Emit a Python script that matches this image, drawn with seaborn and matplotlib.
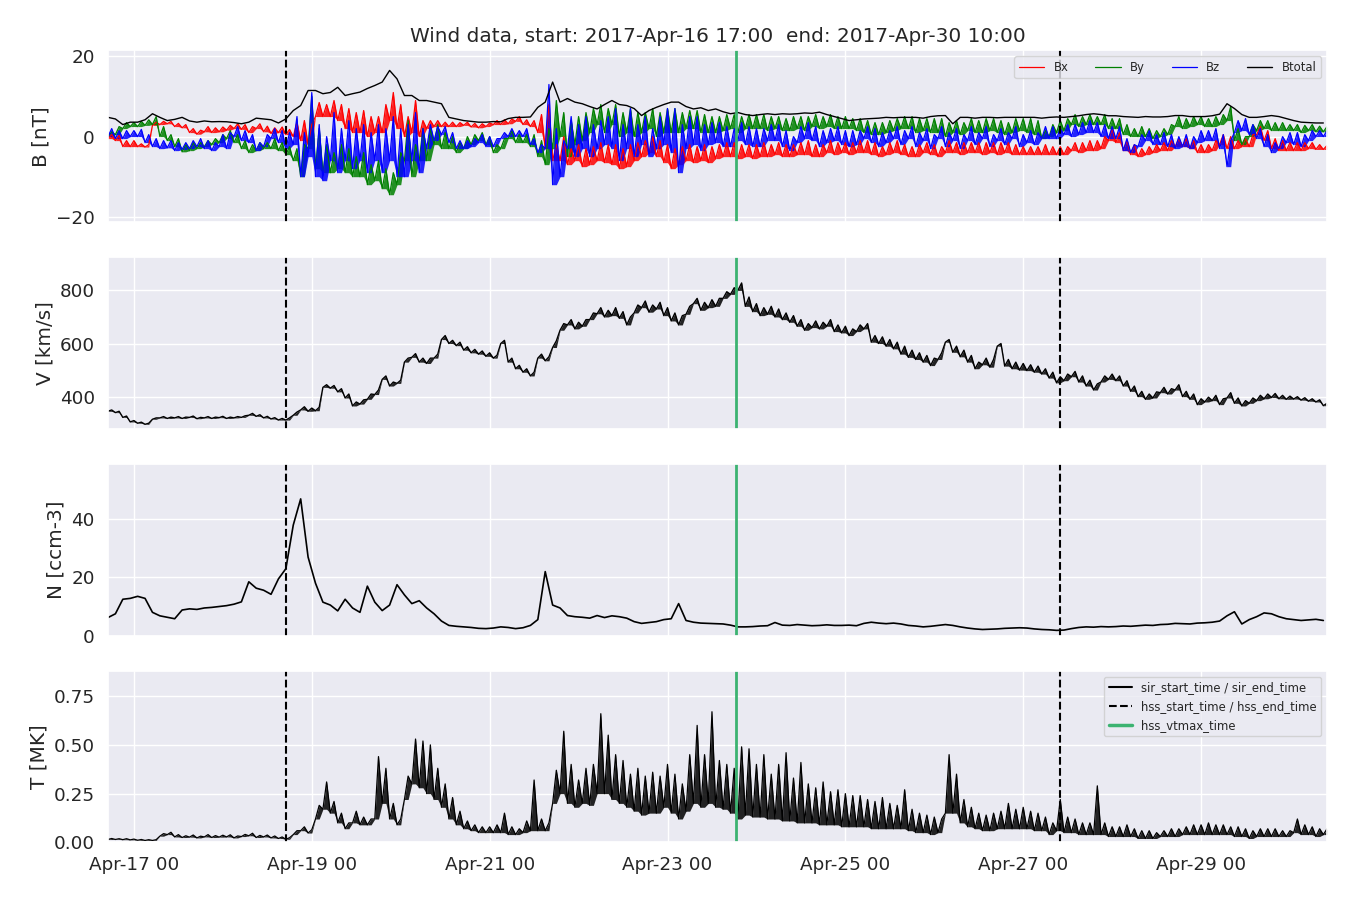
import pandas as pd
import numpy as np
import matplotlib
matplotlib.use('Agg')
import matplotlib.pyplot as plt
import matplotlib.dates as mdates
from matplotlib.lines import Line2D
import seaborn as sns

sns.set_theme(style='darkgrid', context='notebook', font_scale=1.2)
plt.rcParams['font.family'] = ['DejaVu Sans']

# Wind data, 2-hourly samples (Apr-16 17:00 .. Apr-30 09:00).
# Noisy quantities are given as low / high edges of the trace in each 2 h window.
t_start = '2017-04-16 17:00'
t_end = '2017-04-30 10:00'
hss_start_time = '2017-04-18 17:00'
hss_end_time = '2017-04-27 10:00'
hss_vtmax_time = '2017-04-23 18:30'

btot = [4.8, 4.4, 3.0, 3.6,
        3.6, 4.2, 5.7, 4.8, 4.0, 4.3, 4.8, 3.9, 3.6, 3.9, 3.7, 3.75,
        3.7, 3.5, 3.2, 3.6, 4.6, 4.4, 4.2, 3.4, 4.4, 6.5, 7.75, 11.5,
        11.5, 10.7, 11.0, 12.3, 10.25, 10.7, 11.1, 12.0, 12.75, 13.6, 16.5, 14.4,
        10.25, 10.25, 9.0, 9.0, 8.6, 8.2, 4.8, 4.4, 4.0, 3.8, 3.6, 3.6,
        3.75, 3.7, 4.5, 4.8, 4.8, 4.9, 7.3, 8.6, 13.6, 8.6, 9.5, 8.6,
        8.2, 7.5, 6.9, 8.0, 9.0, 8.0, 7.75, 7.0, 5.25, 6.5, 7.3, 8.0,
        8.6, 8.6, 7.5, 6.9, 7.2, 6.5, 6.9, 6.2, 5.7, 6.0, 5.5, 5.25,
        5.5, 5.7, 5.5, 5.7, 5.6, 5.7, 5.9, 5.8, 6.1, 5.5, 5.0, 4.5,
        4.0, 4.2, 4.4, 4.5, 4.6, 4.8, 4.7, 4.8, 4.8, 4.8, 4.6, 5.0,
        5.2, 5.25, 3.2, 4.8, 4.8, 4.6, 4.8, 4.8, 4.7, 4.8, 4.8, 4.8,
        4.8, 4.8, 4.6, 4.8, 4.9, 4.8, 5.0, 5.2, 5.5, 5.7, 5.5, 5.2,
        5.2, 5.0, 4.9, 4.8, 5.0, 4.9, 4.9, 5.0, 5.25, 5.25, 5.0, 5.0,
        5.0, 5.2, 5.6, 8.2, 7.0, 5.5, 4.8, 4.8, 5.0, 5.25, 5.0, 4.5,
        4.0, 3.6, 3.5, 3.4, 3.4]

bx_lo = [-0.5, -1.0, -2.5, -2.5,
         -2.5, -2.6, 2.8, 3.0, 3.2, 2.5, 2.2, 1.0, 0.6, 1.2, 1.0, 1.2,
         1.6, 2.0, 1.8, 1.0, 2.0, 1.2, 0.8, 1.0, 0.5, 0.0, -1.0, -2.0,
         5.0, 5.0, 5.0, 4.0, 2.0, 1.0, 1.0, 0.0, 1.0, 1.0, 4.0, 2.0,
         0.0, 1.0, 0.0, 2.0, 2.5, 2.5, 2.5, 2.5, 2.8, 2.4, 2.2, 2.5,
         3.0, 3.0, 3.2, 3.8, 3.0, 2.5, 1.0, -3.0, -6.0, -6.0, -7.0, -6.0,
         -7.5, -7.0, -6.0, -6.5, -7.0, -8.0, -7.5, -6.0, -5.0, -4.0, -5.0, -6.5,
         -8.0, -7.0, -6.0, -6.5, -6.0, -6.5, -5.5, -5.0, -5.0, -5.5, -5.0, -5.5,
         -5.0, -5.0, -4.5, -5.0, -5.0, -4.5, -4.5, -5.0, -5.0, -4.0, -4.5, -4.0,
         -4.5, -4.0, -4.0, -4.5, -5.0, -4.5, -4.0, -4.5, -5.0, -5.0, -4.0, -4.5,
         -5.0, -4.0, -4.0, -4.5, -4.0, -4.0, -4.5, -4.0, -4.5, -4.0, -4.5, -4.5,
         -4.5, -4.5, -4.5, -4.5, -4.5, -4.5, -3.5, -4.0, -3.5, -3.5, -3.0, -1.0,
         -1.5, -3.5, -4.5, -5.0, -4.5, -4.0, -3.5, -3.5, -2.5, -2.5, -3.0, -4.0,
         -4.0, -3.5, -2.0, -3.0, -3.0, -2.5, -2.5, 0.5, -1.0, -3.0, -3.5, -3.5,
         -3.5, -3.5, -3.0, -3.2, -3.2]
bx_hi = [0.5, 0.3, -1.0, -1.0,
         -1.8, -2.0, 3.6, 3.8, 3.8, 3.3, 3.0, 2.0, 1.6, 2.5, 2.2, 2.4,
         2.8, 3.2, 3.0, 2.5, 3.2, 2.6, 2.2, 2.4, 1.8, 3.6, 4.0, 3.0,
         8.5, 8.0, 9.0, 8.0, 7.0, 6.0, 6.5, 5.0, 5.0, 8.0, 11.0, 8.0,
         5.0, 9.0, 4.0, 4.0, 4.0, 3.6, 3.6, 3.5, 3.6, 3.3, 3.2, 3.4,
         4.0, 4.2, 4.4, 5.0, 4.2, 4.0, 5.5, 8.0, -2.0, 0.0, -3.0, -2.0,
         -3.0, -2.5, -1.5, -2.0, -2.0, -3.0, -2.0, -1.5, -1.0, 0.0, -1.0, -2.0,
         -3.0, -2.5, -2.0, -2.5, -2.0, -2.5, -2.0, -1.5, -1.5, -2.0, -2.0, -2.0,
         -1.5, -2.0, -1.5, -2.0, -2.0, -1.5, -1.0, -2.0, -2.0, -1.0, -1.5, -1.5,
         -1.5, -1.0, -1.0, -1.5, -2.5, -1.5, -1.0, -2.0, -2.5, -2.0, -1.5, -2.0,
         -2.5, -1.0, -1.5, -1.5, -1.5, -1.5, -1.5, -1.5, -1.5, -1.5, -2.0, -2.5,
         -2.5, -2.5, -2.0, -2.5, -2.5, -2.5, -1.5, -1.5, -1.0, -1.0, 0.0, 2.0,
         1.0, -1.0, -2.0, -3.0, -2.5, -2.0, -1.5, -1.0, -0.5, -0.5, -1.0, -2.0,
         -2.0, -1.0, 0.5, 0.0, -1.0, -0.5, 0.5, 2.5, 1.5, -0.5, -1.0, -1.5,
         -1.5, -1.5, -1.5, -2.0, -2.2]

by_lo = [0.0, 0.5, 2.0, 2.5,
         2.5, 2.8, 3.0, 0.0, -1.0, -2.5, -3.8, -3.5, -3.0, -2.5, -2.0, -1.5,
         -0.5, -1.5, -3.0, -4.0, -3.5, -3.0, -3.0, -3.5, -4.5, -6.0, -10.0, -3.0,
         -8.0, -9.0, -9.0, -8.0, -9.0, -10.0, -10.0, -12.0, -11.0, -13.0, -14.5, -12.0,
         -6.0, -10.0, -6.0, -6.0, -2.0, -3.0, -3.0, -4.0, -3.0, -2.0, -1.0, -2.0,
         -4.0, -3.0, -0.5, -1.5, -1.5, -2.5, -5.0, -7.0, -3.0, 0.0, -5.0, -2.0,
         -1.0, 1.0, 3.0, 1.0, 3.0, 0.0, 1.0, 0.0, 1.0, 2.0, 0.0, 1.0,
         1.0, 1.0, 2.0, 2.0, 1.0, 1.0, 1.0, 1.5, 2.0, 1.0, 2.0, 2.0,
         2.0, 1.5, 2.0, 1.5, 1.5, 2.0, 1.5, 2.5, 2.0, 2.5, 2.0, 2.0,
         2.0, 1.5, 1.0, 0.5, 0.5, 1.0, 1.5, 2.0, 2.0, 1.0, 1.5, 1.0,
         1.0, 0.0, 1.0, 0.5, 1.5, 1.0, 1.0, 1.5, 1.0, 0.5, 1.0, 1.5,
         1.0, 0.5, -0.5, 0.0, 1.0, 1.5, 3.0, 2.5, 3.0, 3.0, 3.0, 2.0,
         2.0, 0.5, 0.0, 0.0, 0.0, -0.5, 0.0, 0.5, 2.5, 2.0, 2.5, 3.0,
         2.5, 2.5, 3.0, 4.0, -1.0, -2.0, 0.0, 1.5, 2.0, 1.5, 1.5, 1.5,
         1.5, 1.0, 1.5, 1.2, 1.2]
by_hi = [1.2, 2.5, 3.5, 3.5,
         3.8, 4.2, 5.0, 2.5, 0.5, -0.5, -2.0, -1.5, -1.5, -1.0, -0.5, 0.5,
         1.5, 0.5, -1.0, -2.0, -1.5, -1.5, -0.5, -1.5, -2.5, -3.0, -2.0, 10.0,
         2.0, -2.0, -4.0, -2.0, -3.0, -5.0, -4.0, -7.0, -6.0, -8.0, -9.0, -4.0,
         4.0, -2.0, 2.0, 2.0, 3.0, 1.0, 0.0, -1.5, 0.0, 0.5, 1.0, 0.0,
         -2.0, -0.5, 1.5, 0.5, 0.5, 0.5, -1.0, 2.0, 9.0, 6.0, 4.0, 5.0,
         6.0, 7.0, 8.0, 7.0, 8.0, 6.0, 7.0, 6.0, 6.0, 7.0, 6.0, 7.0,
         7.0, 6.0, 6.5, 6.5, 5.5, 5.0, 5.0, 5.5, 5.5, 5.0, 5.5, 5.5,
         5.5, 5.0, 5.0, 4.5, 5.0, 5.0, 5.0, 5.5, 5.0, 5.5, 5.0, 5.0,
         4.5, 4.5, 4.0, 3.5, 3.5, 4.0, 4.5, 5.0, 5.0, 4.5, 4.5, 4.5,
         4.5, 3.5, 4.0, 3.5, 4.5, 4.0, 4.5, 4.5, 4.0, 3.5, 4.5, 4.5,
         4.5, 4.0, 1.5, 3.0, 4.0, 4.5, 5.5, 5.0, 5.5, 5.0, 5.5, 4.5,
         4.5, 3.0, 2.0, 2.5, 2.0, 1.5, 2.0, 3.0, 5.0, 4.5, 5.0, 5.0,
         4.5, 5.0, 5.5, 7.5, 2.0, 0.0, 3.0, 4.0, 4.0, 3.5, 3.5, 3.0,
         3.0, 2.8, 3.0, 2.6, 2.5]

bz_lo = [0.0, -0.5, -0.5, 0.0,
         0.0, -1.5, -2.5, -3.0, -2.8, -3.5, -3.2, -3.0, -2.5, -3.0, -3.5, -2.5,
         -3.0, 0.0, -1.0, -1.5, -3.5, -2.5, -0.5, -1.5, -3.0, -2.0, -10.0, -5.0,
         -10.0, -11.0, -6.0, -9.0, -6.0, -8.0, -6.0, -9.0, -6.0, -9.0, -6.0, -10.0,
         -10.0, -6.0, -9.0, -3.0, -1.0, 0.5, -1.5, -3.0, -3.0, -2.5, -1.5, -2.5,
         -2.5, -0.5, 0.0, 0.0, 0.0, -2.0, -4.0, -3.0, -12.0, -10.0, -3.0, -5.0,
         -3.0, -5.0, -3.0, -2.0, -3.0, -6.0, -3.0, -5.0, -2.0, -5.0, -3.0, -2.0,
         -4.0, -9.0, -3.0, -2.0, -3.5, -2.0, -1.5, -2.5, -2.5, -1.0, -2.0, -2.5,
         -2.5, -1.0, -1.0, -2.5, -3.5, -1.5, -0.5, -1.0, -2.5, -1.5, -1.0, -2.0,
         -2.5, -2.0, -0.5, -1.5, -2.5, -1.5, -0.5, -2.0, -0.5, -2.5, -1.0, -3.0,
         -0.5, -2.5, -1.0, -3.0, -1.0, -2.0, -0.5, -2.5, -1.0, -2.0, -0.5, -2.5,
         -1.5, -2.0, -0.5, -0.5, -0.5, 0.5, 0.0, 0.5, 1.0, 1.0, 0.0, -0.5,
         -0.5, -3.5, -4.0, -2.5, -1.0, -2.0, -2.0, -2.5, -3.0, -2.5, -3.0, -1.5,
         -1.0, -1.0, -3.0, -7.5, 1.0, 1.5, 0.5, -0.5, -2.5, -4.0, -3.0, -1.5,
         -2.0, -2.5, -1.0, 0.0, 0.0]
bz_hi = [2.0, 1.5, 1.5, 1.5,
         1.8, 0.5, -0.5, -1.0, -1.0, -1.5, -1.5, -1.0, -0.5, -1.0, -1.5, 0.5,
         1.0, 2.5, 1.5, 0.5, -1.5, 0.5, 2.0, 1.5, 1.0, 5.0, 1.0, 11.0,
         3.0, 0.0, 6.0, 2.0, 4.0, 2.0, 3.0, 1.0, 3.0, 2.0, 5.0, 2.0,
         3.0, 6.0, 2.0, 3.0, 2.5, 2.5, 1.0, -1.0, -1.0, -0.5, 0.5, 0.0,
         -0.5, 1.0, 2.0, 1.5, 2.0, -0.5, -2.0, 13.0, 2.0, -1.0, 5.0, 3.0,
         5.0, 3.0, 4.0, 5.0, 7.0, 3.0, 7.0, 3.0, 5.0, 2.0, 5.0, 7.0,
         7.0, 3.0, 5.0, 5.0, 3.0, 3.5, 3.5, 2.5, 2.0, 3.5, 2.5, 2.0,
         2.0, 3.0, 3.0, 1.5, 0.0, 2.5, 3.5, 2.5, 1.5, 2.0, 2.5, 1.5,
         1.5, 1.5, 2.5, 2.0, 1.0, 1.5, 2.5, 1.5, 2.5, 1.0, 2.0, 0.5,
         2.5, 1.0, 2.0, 0.5, 2.5, 1.0, 2.5, 0.5, 2.0, 1.0, 2.5, 0.5,
         1.5, 1.0, 2.5, 2.5, 2.0, 3.0, 3.0, 3.5, 4.0, 3.5, 3.0, 2.5,
         2.5, -0.5, -2.0, 0.5, 1.5, 0.5, 1.0, 0.5, 0.0, 0.5, 0.0, 1.5,
         1.5, 2.0, 0.5, -1.0, 4.0, 4.5, 3.0, 2.0, 0.5, -1.5, 0.0, 1.0,
         1.0, 0.5, 1.5, 1.5, 1.5]

vel_lo = [345, 340, 322, 305,
          300, 296, 315, 320, 318, 320, 318, 322, 317, 320, 318, 321,
          318, 320, 322, 330, 326, 320, 316, 312, 312, 330, 350, 345,
          347, 435, 432, 418, 395, 365, 372, 390, 408, 465, 440, 450,
          530, 548, 530, 525, 545, 615, 600, 592, 575, 565, 560, 552,
          545, 600, 530, 505, 492, 478, 545, 535, 585, 650, 670, 655,
          665, 690, 712, 700, 705, 695, 670, 715, 735, 718, 730, 705,
          685, 670, 710, 750, 725, 735, 740, 770, 785, 800, 740, 720,
          705, 710, 700, 690, 680, 665, 650, 660, 655, 665, 645, 640,
          630, 645, 655, 605, 600, 590, 580, 560, 548, 540, 530, 517,
          540, 605, 567, 550, 530, 505, 520, 511, 590, 515, 505, 500,
          498, 492, 485, 470, 452, 460, 475, 455, 440, 425, 455, 465,
          460, 440, 420, 400, 390, 395, 415, 410, 425, 400, 390, 370,
          380, 385, 370, 395, 375, 365, 375, 385, 392, 397, 392, 390,
          391, 387, 383, 380, 366]
vel_hi = [350, 345, 327, 310,
          304, 300, 320, 325, 323, 325, 323, 327, 322, 325, 323, 326,
          323, 325, 328, 337, 332, 326, 321, 318, 320, 342, 362, 357,
          360, 445, 442, 430, 410, 380, 388, 410, 425, 478, 455, 462,
          545, 562, 545, 545, 560, 630, 612, 605, 588, 578, 572, 565,
          556, 612, 545, 518, 505, 492, 560, 550, 610, 675, 690, 680,
          690, 715, 735, 725, 735, 720, 700, 745, 760, 745, 755, 735,
          715, 705, 740, 770, 755, 765, 770, 795, 810, 828, 775, 750,
          735, 740, 730, 715, 705, 690, 675, 685, 680, 690, 670, 665,
          655, 670, 675, 630, 625, 615, 605, 590, 575, 565, 555, 545,
          565, 615, 590, 575, 555, 530, 545, 540, 600, 540, 530, 525,
          520, 515, 505, 492, 475, 485, 495, 478, 462, 448, 478, 485,
          478, 460, 440, 420, 410, 418, 435, 430, 445, 420, 410, 392,
          398, 405, 392, 415, 395, 385, 395, 405, 410, 412, 405, 402,
          400, 396, 392, 388, 375]

dens = [6.2, 7.5, 12.5, 12.8,
        13.5, 12.8, 8.0, 6.8, 6.3, 5.8, 8.8, 9.2, 9.0, 9.5, 9.7, 10.0,
        10.3, 10.8, 11.6, 18.5, 16.3, 15.6, 14.2, 19.5, 23.0, 38.0, 47.0, 27.0,
        18.0, 11.5, 10.5, 8.5, 12.5, 9.5, 8.0, 17.0, 11.5, 8.6, 10.5, 17.5,
        14.0, 11.0, 12.0, 9.5, 7.5, 5.0, 3.5, 3.2, 3.0, 2.8, 2.5, 2.4,
        2.6, 3.0, 2.8, 2.4, 2.7, 3.5, 5.5, 22.0, 10.5, 9.5, 6.9, 6.5,
        6.3, 6.0, 6.9, 6.2, 6.8, 6.5, 6.0, 4.8, 4.2, 4.5, 4.8, 5.5,
        5.8, 11.0, 5.2, 4.6, 4.3, 4.2, 4.1, 4.0, 3.6, 3.0, 3.0, 3.1,
        3.3, 3.4, 4.5, 3.6, 3.5, 3.8, 3.6, 3.4, 3.5, 3.7, 3.5, 3.5,
        3.6, 3.4, 4.2, 4.6, 4.3, 4.1, 4.3, 4.0, 3.5, 3.3, 3.0, 3.2,
        3.5, 3.8, 3.5, 3.0, 2.6, 2.3, 2.1, 2.2, 2.3, 2.5, 2.6, 2.7,
        2.6, 2.3, 2.1, 2.0, 1.8, 1.9, 2.4, 2.8, 3.0, 2.9, 3.1, 3.0,
        3.1, 3.3, 3.2, 3.4, 3.6, 3.5, 3.8, 3.9, 4.2, 4.1, 4.0, 4.3,
        4.4, 4.6, 5.0, 6.8, 8.2, 4.0, 5.5, 6.5, 7.8, 7.5, 6.5, 5.8,
        5.5, 5.2, 5.4, 5.6, 5.2]

temp_lo = [0.015, 0.015, 0.014, 0.013,
           0.011, 0.010, 0.010, 0.032, 0.040, 0.028, 0.025, 0.027, 0.023, 0.028, 0.025, 0.027,
           0.028, 0.023, 0.030, 0.034, 0.025, 0.028, 0.023, 0.020, 0.016, 0.040, 0.060, 0.048,
           0.12, 0.17, 0.15, 0.10, 0.07, 0.10, 0.09, 0.09, 0.12, 0.20, 0.12, 0.09,
           0.22, 0.30, 0.28, 0.25, 0.22, 0.18, 0.12, 0.09, 0.07, 0.06, 0.05, 0.05,
           0.05, 0.05, 0.04, 0.04, 0.05, 0.06, 0.06, 0.06, 0.20, 0.25, 0.20, 0.18,
           0.20, 0.19, 0.25, 0.25, 0.22, 0.20, 0.18, 0.16, 0.14, 0.15, 0.15, 0.18,
           0.15, 0.12, 0.16, 0.20, 0.18, 0.20, 0.18, 0.17, 0.15, 0.12, 0.14, 0.13,
           0.13, 0.12, 0.12, 0.11, 0.11, 0.10, 0.10, 0.10, 0.09, 0.09, 0.09, 0.08,
           0.08, 0.08, 0.08, 0.07, 0.07, 0.07, 0.07, 0.07, 0.06, 0.05, 0.05, 0.04,
           0.05, 0.15, 0.15, 0.10, 0.08, 0.07, 0.06, 0.06, 0.07, 0.07, 0.07, 0.07,
           0.07, 0.06, 0.06, 0.04, 0.06, 0.05, 0.05, 0.04, 0.04, 0.04, 0.04, 0.03,
           0.03, 0.03, 0.03, 0.02, 0.02, 0.02, 0.03, 0.03, 0.03, 0.04, 0.04, 0.04,
           0.04, 0.04, 0.04, 0.04, 0.03, 0.03, 0.02, 0.03, 0.03, 0.03, 0.03, 0.03,
           0.05, 0.04, 0.04, 0.03, 0.04]
temp_hi = [0.020, 0.019, 0.019, 0.017,
           0.015, 0.014, 0.014, 0.045, 0.052, 0.040, 0.034, 0.038, 0.032, 0.040, 0.035, 0.037,
           0.039, 0.033, 0.041, 0.047, 0.036, 0.038, 0.033, 0.028, 0.024, 0.060, 0.080, 0.065,
           0.19, 0.31, 0.21, 0.15, 0.10, 0.16, 0.13, 0.12, 0.44, 0.38, 0.20, 0.12,
           0.34, 0.53, 0.52, 0.50, 0.38, 0.30, 0.23, 0.16, 0.11, 0.09, 0.08, 0.08,
           0.09, 0.15, 0.08, 0.07, 0.11, 0.32, 0.12, 0.10, 0.37, 0.57, 0.40, 0.32,
           0.38, 0.40, 0.66, 0.55, 0.45, 0.42, 0.35, 0.38, 0.34, 0.36, 0.34, 0.40,
           0.35, 0.30, 0.45, 0.60, 0.45, 0.67, 0.42, 0.40, 0.38, 0.49, 0.48, 0.40,
           0.45, 0.35, 0.40, 0.46, 0.33, 0.41, 0.30, 0.28, 0.31, 0.26, 0.27, 0.25,
           0.24, 0.24, 0.22, 0.21, 0.23, 0.20, 0.19, 0.27, 0.17, 0.15, 0.14, 0.13,
           0.12, 0.45, 0.35, 0.22, 0.18, 0.15, 0.14, 0.15, 0.16, 0.20, 0.17, 0.18,
           0.16, 0.15, 0.13, 0.10, 0.22, 0.13, 0.12, 0.10, 0.10, 0.29, 0.10, 0.08,
           0.08, 0.09, 0.07, 0.06, 0.06, 0.05, 0.06, 0.07, 0.07, 0.08, 0.09, 0.09,
           0.10, 0.09, 0.09, 0.08, 0.08, 0.07, 0.06, 0.07, 0.07, 0.07, 0.06, 0.06,
           0.12, 0.09, 0.08, 0.07, 0.07]

time = pd.date_range(t_start, periods=len(btot), freq='2h')
df = pd.DataFrame({'time': time, 'Btotal': btot, 'N': dens})

# low edge at the start of each 2 h window, high edge one hour later;
# '<col>_floor' holds the low edge of the window for the shaded core
band = pd.DataFrame({
    'time': np.concatenate([time, time + pd.Timedelta('1h')]),
    'Bx': bx_lo + bx_hi, 'Bx_floor': bx_lo + bx_lo,
    'By': by_lo + by_hi, 'By_floor': by_lo + by_lo,
    'Bz': bz_lo + bz_hi, 'Bz_floor': bz_lo + bz_lo,
    'V': vel_lo + vel_hi, 'V_floor': vel_lo + vel_lo,
    'T': temp_lo + temp_hi, 'T_floor': temp_lo + temp_lo,
}).sort_values('time')


def noisy(ax, col, color, label=None, lw=0.9):
    ax.fill_between(band['time'], band[col + '_floor'], band[col], color=color,
                    alpha=0.85, lw=0)
    sns.lineplot(data=band, x='time', y=col, ax=ax, color=color, lw=lw,
                 label=label, estimator=None)


fig, axes = plt.subplots(4, 1, figsize=(13.5, 9), dpi=100, sharex=True)
fig.subplots_adjust(left=0.08, right=0.983, top=0.944, bottom=0.064, hspace=0.205)

ax = axes[0]
noisy(ax, 'Bx', 'red', 'Bx')
noisy(ax, 'By', 'green', 'By')
noisy(ax, 'Bz', 'blue', 'Bz')
sns.lineplot(data=df, x='time', y='Btotal', ax=ax, color='black', lw=1.0, label='Btotal',
             estimator=None)
ax.set_ylim(-21.3, 21.5)
ax.set_ylabel('B [nT]')
ax.legend(loc='upper right', ncol=4, fontsize='xx-small', handlelength=2.2, columnspacing=2.3)
ax.set_title('Wind data, start: 2017-Apr-16 17:00  end: 2017-Apr-30 10:00')

noisy(axes[1], 'V', 'black', lw=1.0)
axes[1].set_ylim(279, 925)
axes[1].set_ylabel('V [km/s]')

sns.lineplot(data=df, x='time', y='N', ax=axes[2], color='black', lw=1.2, estimator=None)
axes[2].set_ylim(0, 59)
axes[2].set_ylabel('N [ccm-3]')

noisy(axes[3], 'T', 'black')
axes[3].set_ylim(0, 0.88)
axes[3].set_yticks([0, 0.25, 0.5, 0.75])
axes[3].set_ylabel('T [MK]')

for ax in axes:
    for tt in [hss_start_time, hss_end_time]:
        ax.axvline(pd.Timestamp(tt), color='black', ls='--', lw=1.5)
    ax.axvline(pd.Timestamp(hss_vtmax_time), color='mediumseagreen', lw=2)
    ax.set_xlabel('')
    ax.set_xlim(pd.Timestamp(t_start), pd.Timestamp(t_end))

handles = [Line2D([], [], color='black', lw=1.5),
           Line2D([], [], color='black', lw=1.5, ls='--'),
           Line2D([], [], color='mediumseagreen', lw=2.5)]
axes[3].legend(handles, ['sir_start_time / sir_end_time', 'hss_start_time / hss_end_time',
                         'hss_vtmax_time'], loc='upper right', fontsize='xx-small')

axes[3].xaxis.set_major_locator(mdates.DayLocator(bymonthday=[17, 19, 21, 23, 25, 27, 29]))
axes[3].xaxis.set_major_formatter(mdates.DateFormatter('%b-%d %H'))

fig.savefig('out.png', dpi=100)
